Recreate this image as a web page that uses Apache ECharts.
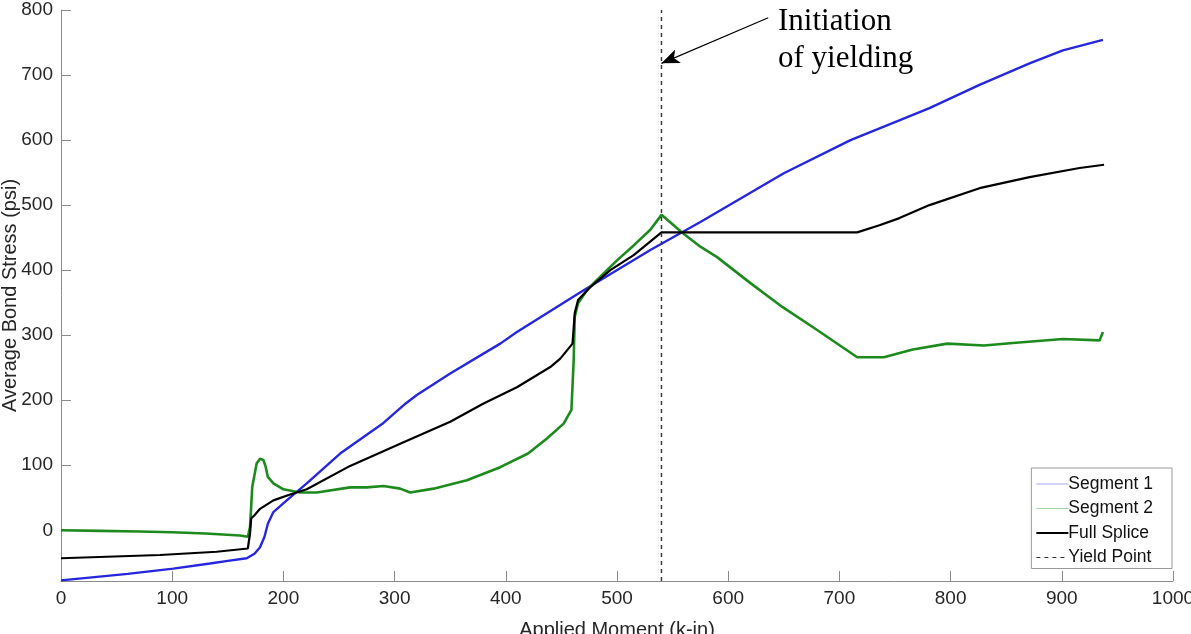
<!DOCTYPE html>
<html>
<head>
<meta charset="utf-8">
<title>Average Bond Stress vs Applied Moment</title>
<script src="https://cdn.jsdelivr.net/npm/echarts@6/dist/echarts.min.js"></script>
<style>
  html, body { margin: 0; padding: 0; background: #fff; }
  #chart { width: 1191px; height: 634px; }
</style>
</head>
<body>
<div id="chart"></div>
<script>
// Applied moment (k-in) vs average bond stress (psi), [moment, stress]
const segment1 = [
  [0, -77], [30, -72], [60, -67], [101, -59], [134, -51], [150, -47], [167, -43],
  [174, -36], [179, -26], [183, -10], [186, 10], [191, 28], [203, 46], [221, 72],
  [251, 118], [290, 165], [310, 195], [320, 208], [350, 241], [395, 287], [410, 305],
  [470, 369], [530, 431], [575, 474], [590, 489], [650, 549], [710, 600], [755, 631],
  [781, 649], [826, 685], [871, 718], [901, 738], [937, 754]
];

const segment2 = [
  [0, 0], [35, -1], [70, -2], [100, -3], [130, -5], [161, -8], [168, -10], [170, 5],
  [172, 67], [176, 103], [179, 110], [182, 108], [184, 98], [186, 82], [191, 72],
  [200, 63], [215, 58], [230, 58], [260, 66], [275, 66], [290, 68], [305, 64],
  [314, 58], [335, 64], [365, 77], [395, 97], [420, 118], [437, 141], [452, 164],
  [459, 185], [461, 260], [462, 328], [465, 349], [473, 369], [479, 380], [491, 400],
  [500, 415], [515, 438], [530, 462], [540, 485], [559, 457], [575, 436], [590, 420],
  [620, 380], [649, 343], [680, 308], [716, 266], [740, 266], [766, 278], [797, 287],
  [830, 284], [856, 288], [901, 294], [934, 292], [937, 305]
];

const fullSplice = [
  [0, -43], [89, -38], [140, -33], [168, -28], [170, -5], [171, 18], [174, 23],
  [179, 33], [191, 46], [206, 55], [221, 63], [260, 99], [305, 133], [350, 167],
  [380, 195], [410, 220], [440, 251], [449, 264], [460, 287], [461, 310], [462, 334],
  [465, 354], [476, 374], [494, 400], [515, 423], [540, 458], [716, 458], [736, 469],
  [754, 480], [781, 500], [826, 526], [871, 543], [916, 557], [938, 562]
];

const yieldMoment = 540;
const stressRange = [-78, 800];
const momentRange = [0, 1000];

// annotation: arrow from the note down to the yield line
const noteArrowFrom = [636, 788];
const noteArrowTo = [540, 718];
const noteLines = ['Initiation', 'of yielding'];

const sans = '"Liberation Sans", Arial, Helvetica, sans-serif';
const serif = '"Liberation Serif", "Times New Roman", serif';
const axisGray = '#8a8a8a';
const labelColor = '#262626';

const chart = echarts.init(document.getElementById('chart'), null, { renderer: 'canvas' });

const option = {
  animation: false,
  backgroundColor: '#fff',
  grid: { left: 61, right: 18, top: 10, bottom: 53, containLabel: false, outerBoundsMode: 'none' },
  xAxis: {
    type: 'value',
    min: momentRange[0],
    max: momentRange[1],
    interval: 100,
    name: 'Applied Moment (k-in)',
    nameLocation: 'middle',
    nameGap: 39,
    nameMoveOverlap: false,
    nameTextStyle: { fontFamily: sans, fontSize: 20, color: labelColor },
    axisLine: { show: true, onZero: false, lineStyle: { color: axisGray, width: 1 } },
    axisTick: { show: true, inside: true, length: 10, lineStyle: { color: axisGray } },
    axisLabel: { fontFamily: sans, fontSize: 19, color: labelColor, margin: 8, formatter: v => String(v) },
    splitLine: { show: false }
  },
  yAxis: {
    type: 'value',
    min: stressRange[0],
    max: stressRange[1],
    splitNumber: 9,
    name: 'Average Bond Stress (psi)',
    nameLocation: 'middle',
    nameGap: 41,
    nameMoveOverlap: false,
    nameRotate: 90,
    nameTextStyle: { fontFamily: sans, fontSize: 20, color: labelColor },
    axisLine: { show: true, onZero: false, lineStyle: { color: axisGray, width: 1 } },
    axisTick: { show: true, inside: true, length: 10, lineStyle: { color: axisGray } },
    axisLabel: {
      fontFamily: sans, fontSize: 19, color: labelColor, margin: 8,
      showMinLabel: false,
      formatter: v => (v % 100 === 0 ? String(v) : '')
    },
    splitLine: { show: false }
  },
  legend: {
    orient: 'vertical',
    right: 19,
    top: 468,
    itemWidth: 32,
    itemHeight: 14,
    itemGap: 6.5,
    padding: [7, 19, 2, 4],
    borderColor: '#9a9a9a',
    borderWidth: 1,
    backgroundColor: '#fff',
    itemStyle: { opacity: 0 },
    textStyle: { fontFamily: sans, fontSize: 17.5, color: '#111', padding: [0, 0, 0, -5] },
    data: [
      { name: 'Segment 1', lineStyle: { color: '#a6a6f2', width: 1 } },
      { name: 'Segment 2', lineStyle: { color: '#a3d3a3', width: 1 } },
      { name: 'Full Splice', lineStyle: { color: '#000', width: 2 } },
      { name: 'Yield Point', lineStyle: { color: '#333', width: 1.2, type: [4, 4] } }
    ]
  },
  series: [
    {
      name: 'Segment 1',
      type: 'line',
      data: segment1,
      symbol: 'none',
      color: '#2626dd',
      lineStyle: { color: '#2626dd', width: 2.4 },
      z: 2
    },
    {
      name: 'Segment 2',
      type: 'line',
      data: segment2,
      symbol: 'none',
      color: '#1d8a1d',
      lineStyle: { color: '#1d8a1d', width: 2.6 },
      z: 3
    },
    {
      name: 'Full Splice',
      type: 'line',
      data: fullSplice,
      symbol: 'none',
      color: '#000',
      lineStyle: { color: '#000', width: 2.2 },
      z: 4
    },
    {
      name: 'Yield Point',
      type: 'line',
      data: [[yieldMoment, stressRange[0]], [yieldMoment, stressRange[1]]],
      symbol: 'none',
      color: '#333',
      lineStyle: { color: '#3a3a3a', width: 1.5, type: [4, 4] },
      z: 5,
      markLine: {
        silent: true,
        symbol: ['none', 'arrow'],
        symbolSize: [11, 18],
        label: { show: false },
        lineStyle: { color: '#000', width: 1.2, type: 'solid' },
        data: [[{ coord: noteArrowFrom }, { coord: noteArrowTo }]]
      }
    }
  ],
  graphic: [
    {
      type: 'text',
      left: 778,
      top: 3,
      style: {
        text: noteLines.join('\n'),
        font: '31px ' + serif,
        lineHeight: 37,
        fill: '#000'
      }
    }
  ]
};

chart.setOption(option);
</script>
</body>
</html>
